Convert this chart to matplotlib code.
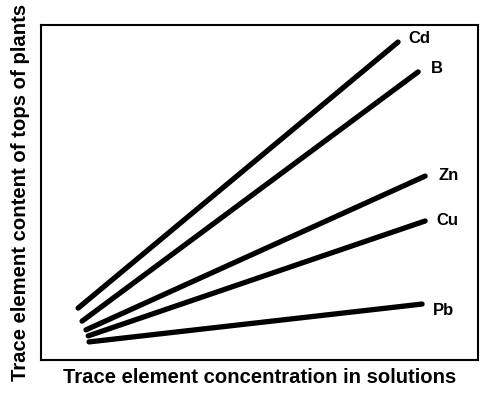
import matplotlib
matplotlib.use("Agg")
import matplotlib.pyplot as plt

elements = ["Cd", "B", "Zn", "Cu", "Pb"]
x_start = [8.5, 9.4, 10.3, 10.8, 11.0]
y_start = [15.5, 11.6, 9.0, 7.2, 5.4]
x_end = [81.7, 86.3, 87.9, 87.9, 87.2]
y_end = [94.9, 86.0, 54.9, 41.5, 16.7]
label_x = [86.6, 90.6, 93.2, 93.0, 92.2]
label_y = [96.1, 86.9, 55.2, 41.5, 14.9]

plt.rcParams['font.family'] = ['Liberation Sans', 'DejaVu Sans']

fig = plt.figure(figsize=(4.97, 3.96), dpi=100)
ax = fig.add_axes([0.0825, 0.0909, 0.8793, 0.846])
for i, el in enumerate(elements):
    ax.plot([x_start[i], x_end[i]], [y_start[i], y_end[i]], color='black',
            linewidth=3.8, solid_capstyle='round')
    ax.text(label_x[i], label_y[i], el, fontsize=12, fontweight='bold',
            ha='center', va='center')
ax.set_xlim(0, 100)
ax.set_ylim(0, 100)
ax.set_xticks([])
ax.set_yticks([])
for s in ax.spines.values():
    s.set_linewidth(1.5)
ax.set_xlabel("Trace element concentration in solutions", fontsize=14.6,
              fontweight='bold', labelpad=6)
ax.set_ylabel("Trace element content of tops of plants", fontsize=14.6,
              fontweight='bold', labelpad=8)
fig.savefig("out.png", dpi=100)
